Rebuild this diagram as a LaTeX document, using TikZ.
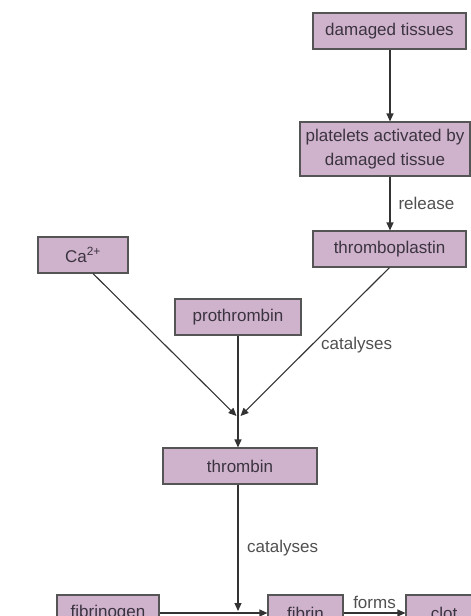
\documentclass[tikz,border=0pt]{standalone}
\usepackage{fontspec}
\setmainfont{Liberation Sans}
\usetikzlibrary{arrows.meta}
\definecolor{boxfill}{HTML}{CFB3CC}
\definecolor{boxline}{HTML}{555555}
\definecolor{txt}{HTML}{3B3340}
\definecolor{lbl}{HTML}{505050}
\definecolor{arr}{HTML}{333333}
\tikzset{
  box/.style={draw=boxline, line width=1.1pt, fill=boxfill, text=txt, inner sep=0pt,
    minimum height=36pt, align=center, font=\fontsize{17}{24}\selectfont},
  conn/.style={draw=arr, line width=1.1pt, -{Triangle[length=8pt,width=7pt]}},
  lab/.style={text=lbl, font=\fontsize{17}{20}\selectfont, inner sep=0pt}
}
\begin{document}
\begin{tikzpicture}[x=1pt,y=-1pt]
\useasboundingbox (0,0) rectangle (471,616);
\clip (0,0) rectangle (471,616);
\fill[white] (0,0) rectangle (471,616);
\node[box, minimum width=153pt] (dt) at (389.5,31) {damaged tissues};
\node[box, minimum width=170pt, minimum height=54pt] (pl) at (385,149) {platelets activated by\\damaged tissue};
\node[box, minimum width=153pt] (tp) at (389.5,249) {thromboplastin};
\node[box, minimum width=90pt] (ca) at (83,255) {Ca\textsuperscript{2+}};
\node[box, minimum width=126pt] (pr) at (238,317) {prothrombin};
\node[box, minimum width=154pt] (th) at (240,466) {thrombin};
\node[box, minimum width=102pt] (fg) at (108,613) {fibrinogen};
\node[box, minimum width=75pt] (fb) at (305.5,613) {fibrin};
\node[box, minimum width=76pt] (cl) at (444,613) {clot};
\coordinate (j) at (238,416);
\coordinate (k) at (238,611);
\draw[conn] (dt.south -| 390,0) -- (pl.north -| 390,0);
\draw[conn] (pl.south -| 390,0) -- node[lab, right=8pt] {release} (tp.north -| 390,0);
\draw[conn] ([xshift=10pt]ca.south) -- ([xshift=-1.5pt]j);
\draw[conn] (tp.south) -- ([xshift=2.5pt]j);
\draw[conn] (pr.south) -- (pr.south |- th.north);
\draw[conn] (th.south -| 238,0) -- (k);
\draw[conn] (fg.east) -- (fb.west);
\draw[conn] (fb.east) -- node[lab, above=4pt] {forms} (cl.west);
\node[lab, anchor=west] (c1) at (321,345) {catalyses};
\node[lab, anchor=west] (c2) at (247,548) {catalyses};
\end{tikzpicture}
\end{document}
